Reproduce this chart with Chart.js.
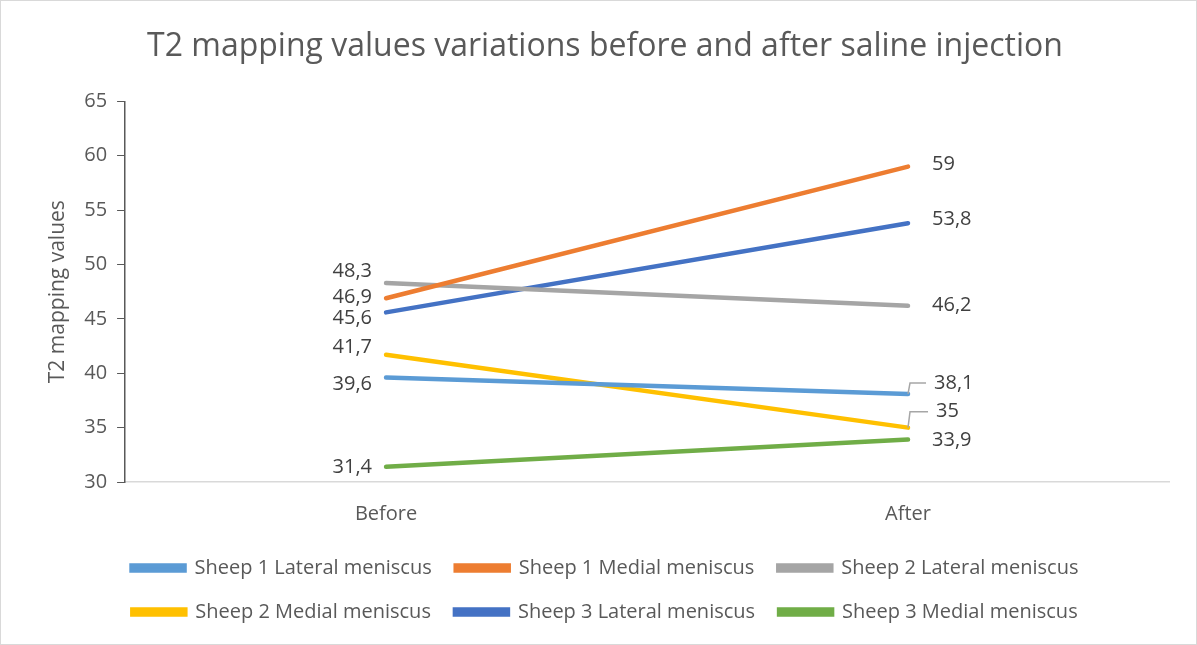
<!DOCTYPE html>
<html>
<head>
<meta charset="utf-8">
<script src="https://cdn.jsdelivr.net/npm/chart.js@4.4.1/dist/chart.umd.min.js"></script>
<style>
  html, body { margin: 0; padding: 0; background: #fff; }
  #wrap { position: relative; width: 1195px; height: 643px; border: 1px solid #d9d9d9; }
</style>
</head>
<body>
<div id="wrap"><canvas id="grafico"></canvas></div>
<script>
const momentos = ['Before', 'After'];

const series = [
    'Sheep 1 Lateral meniscus',
    'Sheep 1 Medial meniscus',
    'Sheep 2 Lateral meniscus',
    'Sheep 2 Medial meniscus',
    'Sheep 3 Lateral meniscus',
    'Sheep 3 Medial meniscus'
];

const oveja1Lateral = [39.6, 38.1];
const oveja1Medial = [46.9, 59];
const oveja2Lateral = [48.3, 46.2];
const oveja2Medial = [41.7, 35];
const oveja3Lateral = [45.6, 53.8];
const oveja3Medial = [31.4, 33.9];

const colores = ['#5B9BD5', '#ED7D31', '#A5A5A5', '#FFC000', '#4472C4', '#70AD47'];

// desplazamiento [dx, dy] de cada etiqueta respecto a su punto
const desplazamientos = [
    [[-14, 7], [26, -11]],
    [[-14, -1], [24, -2]],
    [[-14, -12], [24, -1]],
    [[-14, -7], [28, -16]],
    [[-14, 6], [24, -4]],
    [[-14, 1], [24, 1]]
];

const gris = '#595959';
const fuente = 'Open Sans';

// etiquetas de valor con coma decimal y linea guia cuando quedan lejos
const etiquetas = {
    id: 'etiquetas',
    afterDatasetsDraw(chart) {
        const ctx = chart.ctx;
        ctx.save();
        ctx.font = '20px "' + fuente + '"';
        ctx.fillStyle = '#404040';
        ctx.textBaseline = 'middle';
        chart.data.datasets.forEach((ds, i) => {
            chart.getDatasetMeta(i).data.forEach((pt, j) => {
                const [dx, dy] = desplazamientos[i][j];
                const texto = String(ds.data[j]).replace('.', ',');
                const x = pt.x + dx;
                const y = pt.y + dy;
                ctx.textAlign = dx < 0 ? 'right' : 'left';
                ctx.fillText(texto, x, y);
                if (dx > 0 && dy < -8) {
                    ctx.strokeStyle = '#A6A6A6';
                    ctx.lineWidth = 1.5;
                    ctx.beginPath();
                    ctx.moveTo(pt.x, pt.y);
                    ctx.lineTo(pt.x + 2, y);
                    ctx.lineTo(x - 8, y);
                    ctx.stroke();
                }
            });
        });
        ctx.restore();
    }
};

const valores = [oveja1Lateral, oveja1Medial, oveja2Lateral, oveja2Medial, oveja3Lateral, oveja3Medial];

new Chart(document.getElementById('grafico'), {
    type: 'line',
    data: {
        labels: momentos,
        datasets: series.map((nombre, i) => ({
            label: nombre,
            data: valores[i],
            borderColor: colores[i],
            backgroundColor: colores[i],
            borderWidth: 4.5,
            pointRadius: 0,
            borderCapStyle: 'round',
            fill: false
        }))
    },
    options: {
        responsive: true,
        maintainAspectRatio: false,
        animation: false,
        layout: { padding: { left: 40, right: 27, top: 0, bottom: 12 } },
        plugins: {
            title: {
                display: true,
                text: 'T2 mapping values variations before and after saline injection',
                color: gris,
                font: { family: fuente, size: 32, weight: 'normal' },
                padding: { top: 27, bottom: 35 }
            },
            legend: {
                position: 'bottom',
                labels: {
                    color: gris,
                    font: { family: fuente, size: 20 },
                    boxWidth: 53,
                    boxHeight: 5,
                    padding: 24
                }
            },
            tooltip: { enabled: false }
        },
        scales: {
            x: {
                offset: true,
                grid: { display: false, drawTicks: false },
                border: { color: '#D9D9D9', width: 1.5 },
                ticks: { color: gris, font: { family: fuente, size: 20 }, padding: 20 },
                // acerca la leyenda a las etiquetas del eje
                afterFit(eje) { eje.height -= 12; }
            },
            y: {
                min: 30,
                max: 65,
                title: {
                    display: true,
                    text: 'T2 mapping values',
                    color: gris,
                    font: { family: fuente, size: 21 },
                    padding: { bottom: 4 }
                },
                grid: { drawOnChartArea: false, drawTicks: true, tickLength: 8, color: gris },
                border: { color: gris, width: 1.5 },
                ticks: { stepSize: 5, color: gris, font: { family: fuente, size: 20 }, padding: 10 }
            }
        }
    },
    plugins: [etiquetas]
});
</script>
</body>
</html>
